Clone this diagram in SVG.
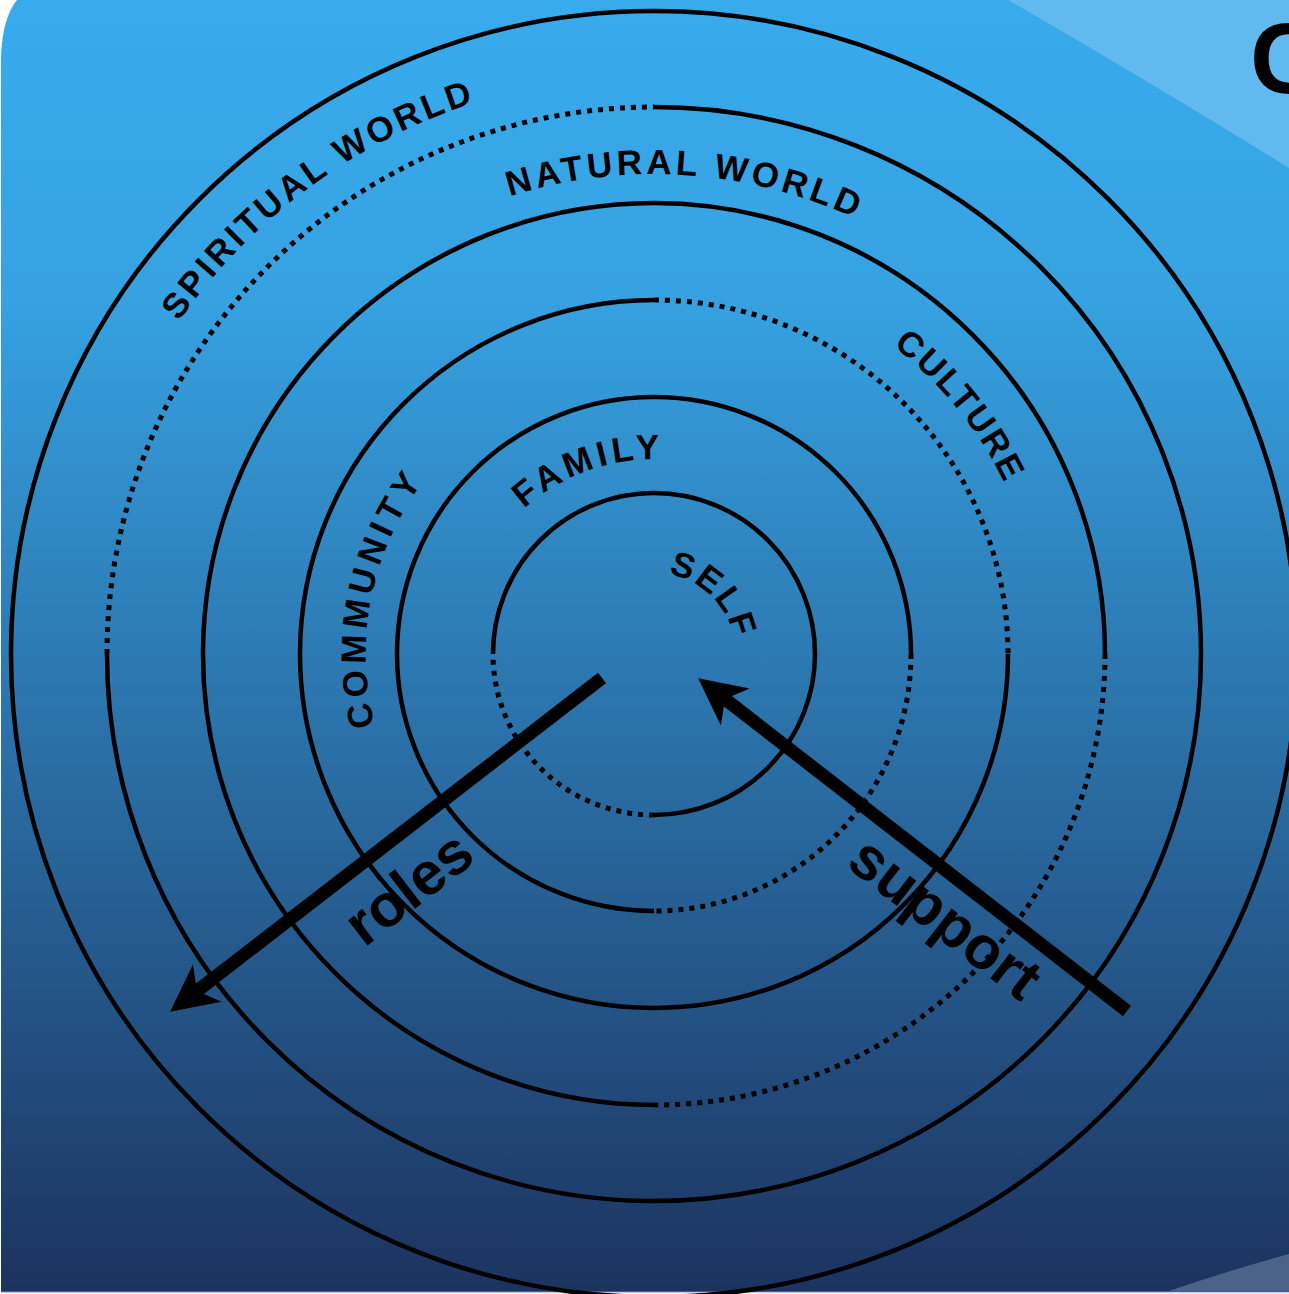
<svg xmlns="http://www.w3.org/2000/svg" width="1289" height="1294" viewBox="0 0 1289 1294">
<defs>
<linearGradient id="bg" x1="0" y1="0" x2="0" y2="1292" gradientUnits="userSpaceOnUse">
<stop offset="0" stop-color="#38ABED"/>
<stop offset="0.23" stop-color="#36A2E2"/>
<stop offset="1" stop-color="#1C335F"/>
</linearGradient>
<marker id="ah" markerUnits="userSpaceOnUse" markerWidth="60" markerHeight="60" viewBox="0 -30 60 60" refX="13" refY="0" orient="auto">
<path d="M0,-23.5 L47,0 L0,23.5 L13,0 Z" fill="#000"/>
</marker>
<path id="pNatural" d="M187.9,539.5 A480,480 0 0 1 1131.2,602.2"/>
<path id="pSpiritual" d="M134.5,911.9 A580,580 0 0 1 1054,234"/>
<path id="pCulture" d="M464.9,312.9 A390,390 0 0 1 948.3,909.9"/>
<path id="pCommunity" d="M548.4,922.0 A288,288 0 0 1 661.5,366.1"/>
<path id="pFamily" d="M461.7,686.2 A195,195 0 0 1 823.7,558.0"/>
<path id="pSelf" d="M607.5,587.6 A81,81 0 0 1 720.4,700.5"/>
</defs>
<style>
.ring{fill:none;stroke:#000;stroke-width:4.5}
.dot{fill:none;stroke:#000;stroke-width:5;stroke-dasharray:5 6}
.lbl{font-family:"Liberation Sans",Arial,sans-serif;font-weight:bold;font-size:35px;fill:#000}
.big{font-family:"Liberation Sans",Arial,sans-serif;font-weight:bold;font-size:60px;fill:#000}
.arr{stroke:#000;stroke-width:13;fill:none}
</style>
<rect x="0" y="0" width="1289" height="1294" fill="#fff"/>
<path d="M1,1292 L1,62 C1,34 7,12 17,0 L1289,0 L1289,1292 Z" fill="url(#bg)"/>
<line x1="1" y1="1292.5" x2="1289" y2="1292.5" stroke="#c4cedb" stroke-width="1.5"/>
<path d="M1008,0 Q1150,82 1289,168 L1289,0 Z" fill="#61B9EF"/>
<path d="M1166,1292 Q1230,1270 1289,1254 L1289,1292 Z" fill="#4B6388"/>
<text x="1250" y="93" font-family="Liberation Sans,Arial,sans-serif" font-weight="bold" font-size="100" fill="#000">C</text>

<g id="ring-outer"><circle class="ring" cx="654" cy="654" r="643"/></g>
<g id="ring-spiritual">
<path class="ring" d="M654,107 A547,547 0 1 1 107,654"/>
<path class="dot" d="M107,654 A547,547 0 0 1 654,107"/>
<text class="lbl" letter-spacing="3.4"><textPath href="#pSpiritual" startOffset="50%" text-anchor="middle">SPIRITUAL WORLD</textPath></text>
</g>
<g id="ring-natural">
<path class="ring" d="M654,1105 A451,451 0 1 1 1105,654"/>
<path class="dot" d="M1105,654 A451,451 0 0 1 654,1105"/>
<text class="lbl" letter-spacing="3.8"><textPath href="#pNatural" startOffset="50%" text-anchor="middle">NATURAL WORLD</textPath></text>
</g>
<g id="ring-community">
<path class="ring" d="M1008,654 A354,354 0 1 1 654,300"/>
<path class="dot" d="M654,300 A354,354 0 0 1 1008,654"/>
<text class="lbl" letter-spacing="2.2"><textPath href="#pCulture" startOffset="50%" text-anchor="middle">CULTURE</textPath></text>
<text class="lbl" letter-spacing="5"><textPath href="#pCommunity" startOffset="50%" text-anchor="middle">COMMUNITY</textPath></text>
</g>
<g id="ring-family">
<path class="ring" d="M654,911 A257,257 0 1 1 911,654"/>
<path class="dot" d="M911,654 A257,257 0 0 1 654,911"/>
<text class="lbl" letter-spacing="4.5"><textPath href="#pFamily" startOffset="50%" text-anchor="middle">FAMILY</textPath></text>
</g>
<g id="ring-self">
<path class="ring" d="M493,654 A161,161 0 1 1 654,815"/>
<path class="dot" d="M654,815 A161,161 0 0 1 493,654"/>
<text class="lbl" letter-spacing="2.5"><textPath href="#pSelf" startOffset="50%" text-anchor="middle">SELF</textPath></text>
</g>

<g id="connectors">
<line class="arr" x1="602" y1="678" x2="197" y2="991" marker-end="url(#ah)"/>
<line class="arr" x1="1127" y1="1011" x2="725" y2="699" marker-end="url(#ah)"/>
<text class="big" text-anchor="middle" transform="translate(421,904) rotate(-37.8)">roles</text>
<text class="big" text-anchor="middle" transform="translate(933,934) rotate(37.8)">support</text>
</g>
</svg>
